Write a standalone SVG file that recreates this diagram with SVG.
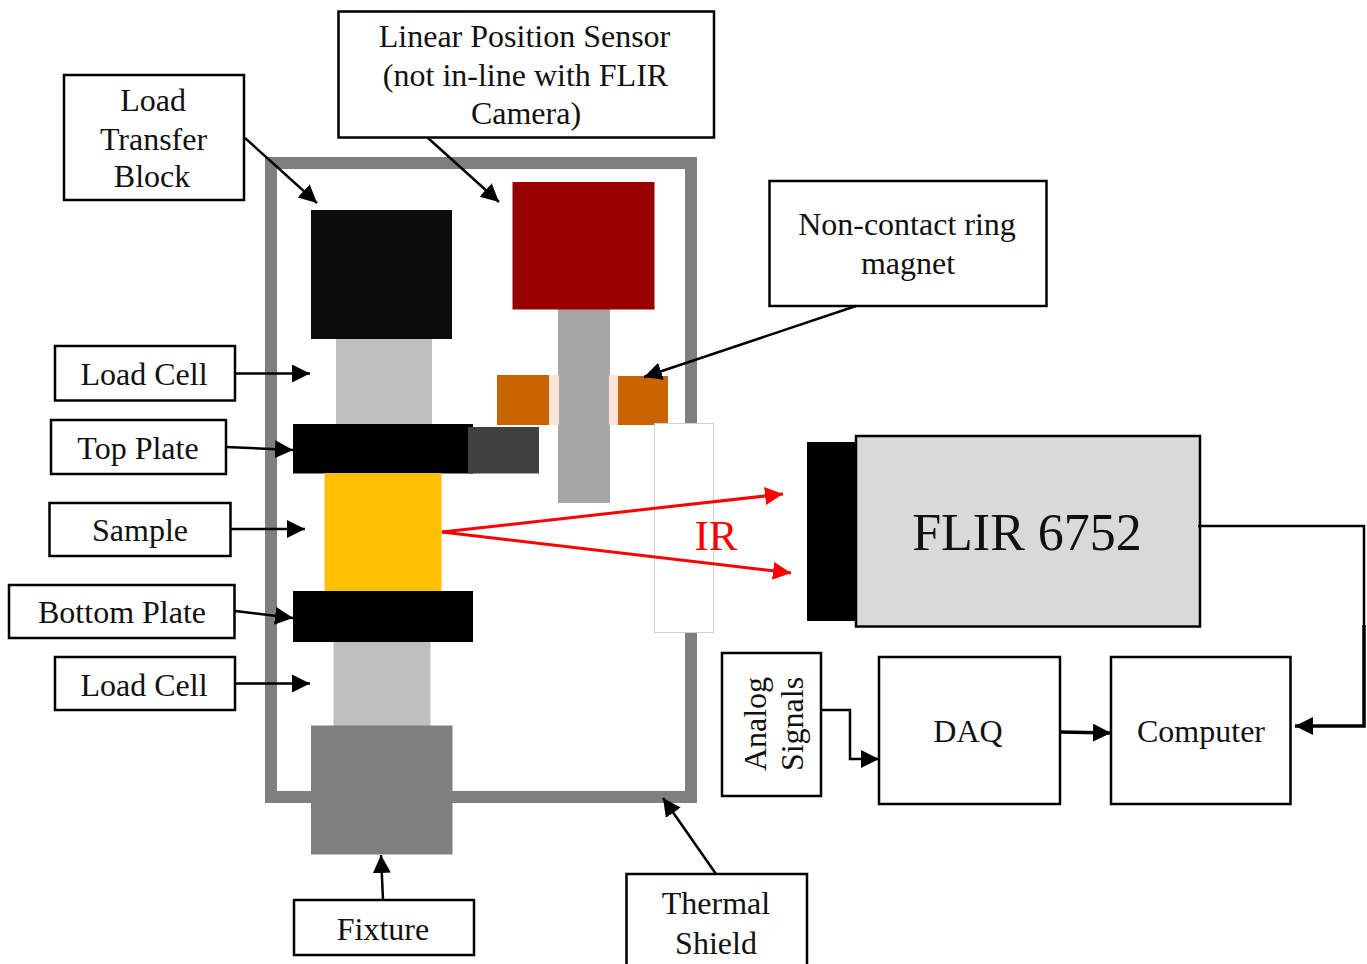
<svg xmlns="http://www.w3.org/2000/svg" width="1367" height="964" viewBox="0 0 1367 964">
<style>
text{font-family:"Liberation Serif","Times New Roman",serif;font-size:32px;fill:#111;text-anchor:middle}
.box{fill:#fff;stroke:#000;stroke-width:2.5}
.ln{fill:none;stroke:#000;stroke-width:2.5}
.ln2{fill:none;stroke:#000;stroke-width:3.5}
.red{fill:none;stroke:#f00;stroke-width:3}
</style>
<defs>
<marker id="a" markerUnits="userSpaceOnUse" markerWidth="20" markerHeight="20" refX="18" refY="9" orient="auto"><path d="M0 0L18 9L0 18Z" fill="#000"/></marker>
<marker id="r" markerUnits="userSpaceOnUse" markerWidth="20" markerHeight="20" refX="18" refY="9" orient="auto"><path d="M0 0L18 9L0 18Z" fill="#f00"/></marker>
</defs>
<g id="shield"><rect x="271" y="163" width="420" height="634" fill="none" stroke="#7f7f7f" stroke-width="12"/></g>
<g id="lts-rod"><rect x="558" y="309" width="52" height="194" fill="#a6a6a6"/></g>
<g id="magnet">
<rect x="548" y="375" width="11" height="50" fill="#fbe5d6"/><rect x="609" y="375" width="9" height="50" fill="#fbe5d6"/>
<rect x="497" y="375" width="52" height="50" fill="#c96500"/><rect x="618" y="376" width="50" height="49" fill="#c96500"/></g>
<g id="sensor"><rect x="512.500" y="182" width="142" height="127.500" fill="#980000"/></g>
<g id="block"><rect x="311" y="210" width="141" height="129" fill="#0d0d0d"/></g>
<g id="lc1"><rect x="336" y="339" width="96" height="87" fill="#bfbfbf"/></g>
<g id="topplate"><rect x="293" y="424" width="180" height="49.500" fill="#000"/><rect x="468" y="427" width="71" height="46.500" fill="#404040"/></g>
<g id="sample"><rect x="324.500" y="473" width="117" height="118" fill="#ffc000"/></g>
<g id="botplate"><rect x="293" y="591" width="180" height="51" fill="#000"/></g>
<g id="lc2"><rect x="333.500" y="642" width="97" height="84" fill="#bfbfbf"/></g>
<g id="fixture-shape"><rect x="311" y="725.500" width="141.500" height="129" fill="#7f7f7f"/></g>
<g id="window"><rect x="654.500" y="423.500" width="59" height="209" fill="#fff" stroke="#d0d0d0" stroke-width="1"/></g>
<g id="flir"><rect x="807" y="442" width="50" height="179" fill="#000"/><rect x="856" y="436" width="344" height="190.500" fill="#d9d9d9" stroke="#000" stroke-width="2.500"/><text x="1027" y="550" style="font-size:52px">FLIR 6752</text></g>
<g id="n1"><rect class="box" x="64" y="75" width="180" height="125"/><text x="153" y="111">Load</text><text x="153.500" y="150">Transfer</text><text x="152" y="187">Block</text></g>
<g id="n2"><rect class="box" x="338.500" y="11.500" width="375.500" height="126"/><text x="524.500" y="47">Linear Position Sensor</text><text x="525.500" y="86">(not in-line with FLIR</text><text x="526" y="124">Camera)</text></g>
<g id="n3"><rect class="box" x="769.500" y="181" width="277" height="125"/><text x="907" y="235">Non-contact ring</text><text x="908" y="274">magnet</text></g>
<g id="n4"><rect class="box" x="55" y="346" width="180" height="54.500"/><text x="144" y="385">Load Cell</text></g>
<g id="n5"><rect class="box" x="51" y="420" width="175" height="54"/><text x="138" y="459">Top Plate</text></g>
<g id="n6"><rect class="box" x="49.500" y="503" width="181" height="53"/><text x="140" y="541">Sample</text></g>
<g id="n7"><rect class="box" x="9" y="585" width="225.500" height="53"/><text x="122" y="623">Bottom Plate</text></g>
<g id="n8"><rect class="box" x="55" y="657" width="180" height="53"/><text x="144" y="696">Load Cell</text></g>
<g id="n9"><rect class="box" x="294" y="900" width="180" height="55"/><text x="383" y="940">Fixture</text></g>
<g id="n10"><path class="box" d="M626.500 964V874H807V964"/><text x="716" y="914">Thermal</text><text x="716" y="954">Shield</text></g>
<g id="n11"><rect class="box" x="722" y="653" width="99" height="143"/><text transform="translate(766 724) rotate(-90)">Analog</text><text transform="translate(803 724) rotate(-90)">Signals</text></g>
<g id="n12"><rect class="box" x="879" y="657" width="181" height="147"/><text x="968" y="742">DAQ</text></g>
<g id="n13"><rect class="box" x="1111" y="657" width="179.500" height="147"/><text x="1201" y="742">Computer</text></g>
<text x="716" y="550" style="font-size:43px;fill:#f00">IR</text>
<g id="connectors">
<path class="ln" marker-end="url(#a)" d="M245 138L317 203"/>
<path class="ln" marker-end="url(#a)" d="M428 138L499 202"/>
<path class="ln" marker-end="url(#a)" d="M856 306L644 377"/>
<path class="ln" marker-end="url(#a)" d="M235 373.500H310"/>
<path class="ln" marker-end="url(#a)" d="M226 447L293 450"/>
<path class="ln" marker-end="url(#a)" d="M231 529H305"/>
<path class="ln" marker-end="url(#a)" d="M235 611L293 618"/>
<path class="ln" marker-end="url(#a)" d="M235 683.500H310"/>
<path class="ln" marker-end="url(#a)" d="M383 900L381 855"/>
<path class="ln" marker-end="url(#a)" d="M716 874L663 798"/>
<path class="ln" marker-end="url(#a)" d="M821 710H850V759H879"/>
<path class="ln2" marker-end="url(#a)" d="M1060 732L1111 733"/>
<path class="ln" d="M1198 526H1364V625"/>
<path class="ln2" marker-end="url(#a)" d="M1364 625V726H1295"/>
<path class="red" marker-end="url(#r)" d="M442 532L783 494"/>
<path class="red" marker-end="url(#r)" d="M442 532L791 573"/>
</g>
</svg>
